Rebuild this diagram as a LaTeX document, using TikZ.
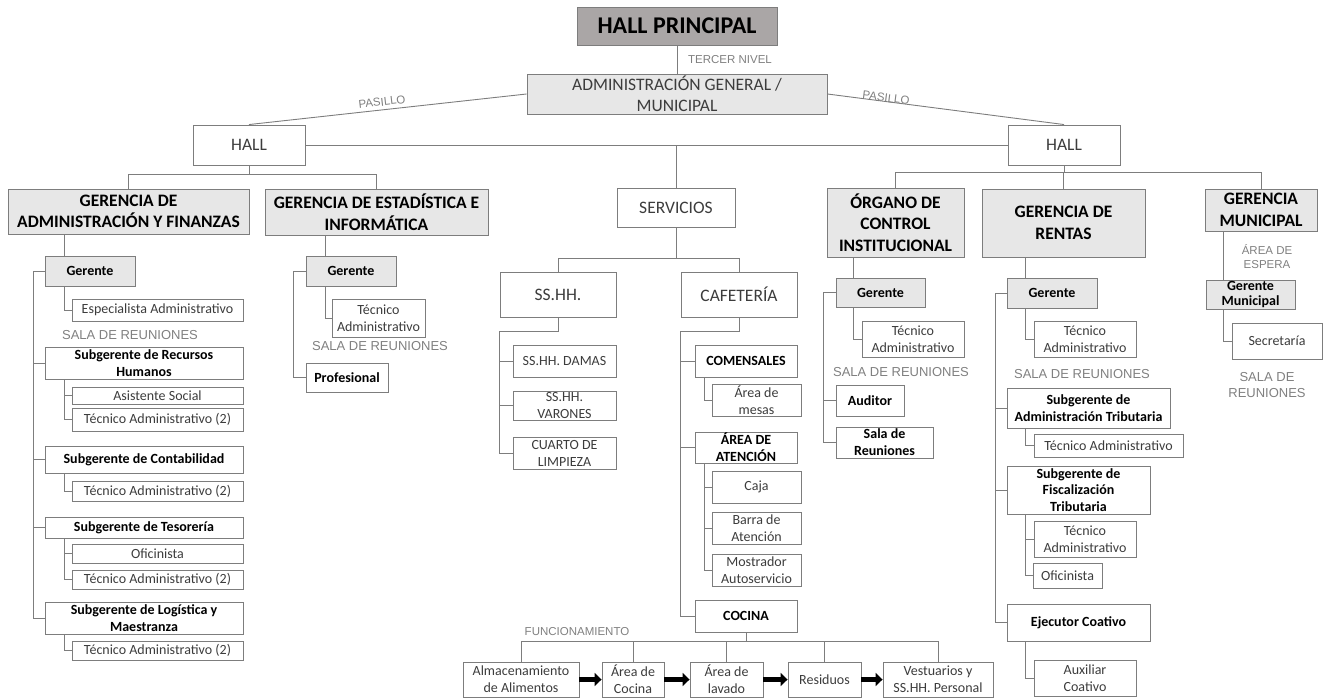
\documentclass[tikz,border=0pt]{standalone}
\usepackage{fontspec}
\setmainfont{Carlito}
\newfontfamily\lblfont{Liberation Sans}
\usetikzlibrary{arrows.meta}
\definecolor{lc}{RGB}{125,125,125}
\definecolor{hdr}{RGB}{231,231,231}
\definecolor{hpc}{RGB}{170,166,166}
\definecolor{tx}{RGB}{60,60,60}
\definecolor{lblc}{RGB}{128,128,128}
\newcommand{\bx}[7]{\node[#1, minimum width={#5pt-#3pt}, minimum height={#6pt-#4pt}] (#2) at ({(#3+#5)/2},{(#4+#6)/2}) {#7};}
\tikzset{
  box/.style={draw=lc, line width=0.9pt, inner sep=0pt, align=center, text=tx, font=\fontsize{14}{17}\selectfont},
  bbox/.style={box, text=black, font=\bfseries\fontsize{14}{17}\selectfont},
  gbox/.style={bbox, fill=hdr},
  midbox/.style={box, font=\fontsize{14}{17}\selectfont},
  bigbox/.style={box, font=\fontsize{17.5}{21}\selectfont},
  hbox/.style={box, fill=hdr, text=black, font=\bfseries\fontsize{17.5}{21.5}\selectfont},
  hpbox/.style={box, fill=hpc, text=black, font=\bfseries\fontsize{24}{28}\selectfont},
  admbox/.style={box, fill=hdr, font=\fontsize{17.5}{21}\selectfont},
  lbl/.style={text=lblc, inner sep=0pt, align=center, font=\lblfont\fontsize{11.5}{14}\selectfont},
  slbl/.style={lbl, font=\lblfont\fontsize{13}{16}\selectfont},
  ln/.style={draw=lc, line width=0.9pt},
  fat/.style={draw=black, line width=4.5pt, -{Triangle[length=7pt,width=13pt]}}
}
\begin{document}
\begin{tikzpicture}[x=1pt,y=-1pt]
\useasboundingbox (0,0) rectangle (1329,699);
% ---------- top ----------
\bx{hpbox}{hp}{577}{7}{777}{45}{HALL PRINCIPAL}
\bx{admbox}{adm}{527}{74}{827}{114}{ADMINISTRACIÓN GENERAL /\\MUNICIPAL}
\bx{bigbox}{hallL}{193}{125}{305}{165}{HALL}
\bx{bigbox}{hallR}{1008}{125}{1120}{165}{HALL}
\bx{bigbox}{serv}{617}{188}{735}{227}{SERVICIOS}
\node[lbl] (tn) at (730,60) {TERCER NIVEL};
\node[lbl, rotate=6.7] (pl) at (382,102) {PASILLO};
\node[lbl, rotate=-7.2] (pr) at (886,98) {PASILLO};
\draw[ln] (hp.south) -- (adm.north);
\draw[ln] (adm.west) -- (hallL.north);
\draw[ln] (adm.east) -- (hallR.north);
\draw[ln] (hallL.east) -- (hallR.west);
\draw[ln] (serv.north) -- (serv.north |- hallL.east);
% ---------- gerencias ----------
\bx{hbox}{gadm}{8}{189}{249}{234}{GERENCIA DE\\ADMINISTRACIÓN Y FINANZAS}
\bx{hbox}{gest}{265}{189}{488}{235}{GERENCIA DE ESTADÍSTICA E\\INFORMÁTICA}
\bx{hbox}{oci}{827}{188}{964}{257}{ÓRGANO DE\\CONTROL\\INSTITUCIONAL}
\bx{hbox}{ren}{982}{189}{1145}{257}{GERENCIA DE\\RENTAS}
\bx{hbox}{gmun}{1205}{189}{1317}{231}{GERENCIA\\MUNICIPAL}
\coordinate (bL) at (0,174);
\coordinate (bR) at (0,172);
\draw[ln] (hallL.south) -- (hallL.south |- bL);
\draw[ln] (gadm.north) -- (gadm.north |- bL) -- (gest.north |- bL) -- (gest.north);
\draw[ln] (hallR.south) -- (hallR.south |- bR);
\draw[ln] (oci.north) -- (oci.north |- bR) -- (gmun.north |- bR) -- (gmun.north);
\draw[ln] (ren.north) -- (ren.north |- bR);
% ---------- Gerencia de Administracion y Finanzas ----------
\coordinate (tA) at (33,0);
\coordinate (sA) at (64,0);
\bx{gbox}{gA}{45}{256}{135}{286}{Gerente}
\bx{box}{esp}{72}{299}{243}{321}{Especialista Administrativo}
\node[slbl] (salaA) at (130,335) {SALA DE REUNIONES};
\bx{bbox}{rrhh}{45}{347}{243}{379}{Subgerente de Recursos\\Humanos}
\bx{box}{asis}{72}{387}{243}{404}{Asistente Social}
\bx{box}{ta1}{72}{408}{243}{431}{Técnico Administrativo (2)}
\bx{bbox}{cont}{45}{446}{243}{473}{Subgerente de Contabilidad}
\bx{box}{ta2}{72}{481}{243}{501}{Técnico Administrativo (2)}
\bx{bbox}{tes}{45}{517}{243}{538}{Subgerente de Tesorería}
\bx{box}{ofA}{72}{544}{243}{563}{Oficinista}
\bx{box}{ta3}{72}{570}{243}{589}{Técnico Administrativo (2)}
\bx{bbox}{logi}{45}{602}{243}{634}{Subgerente de Logística y\\Maestranza}
\bx{box}{ta4}{72}{641}{243}{660}{Técnico Administrativo (2)}
\draw[ln] (gadm.south -| sA) -- (gA.north -| sA);
\draw[ln] (gA.west) -- (gA.west -| tA) -- (logi.west -| tA) -- (logi.west);
\draw[ln] (rrhh.west -| tA) -- (rrhh.west);
\draw[ln] (cont.west -| tA) -- (cont.west);
\draw[ln] (tes.west -| tA) -- (tes.west);
\draw[ln] (gA.south -| sA) |- (esp.west);
\draw[ln] (rrhh.south -| sA) |- (ta1.west);
\draw[ln] (asis.west -| sA) -- (asis.west);
\draw[ln] (cont.south -| sA) |- (ta2.west);
\draw[ln] (tes.south -| sA) |- (ta3.west);
\draw[ln] (ofA.west -| sA) -- (ofA.west);
\draw[ln] (logi.south -| sA) |- (ta4.west);
% ---------- Gerencia de Estadistica ----------
\coordinate (tB) at (293,0);
\coordinate (sB) at (325,0);
\bx{gbox}{gB}{306}{256}{396}{286}{Gerente}
\bx{box}{tcB}{332}{299}{425}{337}{Técnico\\Administrativo}
\node[slbl] (salaB) at (380,346) {SALA DE REUNIONES};
\bx{bbox}{prof}{306}{363}{388}{392}{Profesional}
\draw[ln] (gest.south -| sB) -- (gB.north -| sB);
\draw[ln] (gB.south -| sB) |- (tcB.west);
\draw[ln] (gB.west) -- (gB.west -| tB) |- (prof.west);
% ---------- Servicios ----------
\bx{bigbox}{sshh}{500}{272}{616}{317}{SS.HH.}
\bx{bigbox}{caf}{681}{272}{797}{317}{CAFETERÍA}
\coordinate (bS) at (0,258);
\draw[ln] (serv.south) -- (serv.south |- bS);
\draw[ln] (sshh.north) -- (sshh.north |- bS) -- (caf.north |- bS) -- (caf.north);
\coordinate (bH) at (0,331);
\bx{midbox}{damas}{513}{345}{616}{377}{SS.HH. DAMAS}
\bx{midbox}{varo}{513}{391}{616}{420}{SS.HH.\\VARONES}
\bx{midbox}{limp}{513}{437}{616}{469}{CUARTO DE\\LIMPIEZA}
\draw[ln] (sshh.south) -- (sshh.south |- bH) -- (sshh.west |- bH) -- (limp.west -| sshh.west) -- (limp.west);
\draw[ln] (damas.west -| sshh.west) -- (damas.west);
\draw[ln] (varo.west -| sshh.west) -- (varo.west);
\coordinate (sC) at (704,0);
\bx{bbox}{com}{695}{345}{797}{377}{COMENSALES}
\bx{box}{mesa}{712}{384}{801}{416}{Área de\\mesas}
\bx{bbox}{aten}{695}{432}{797}{463}{ÁREA DE\\ATENCIÓN}
\bx{box}{caja}{712}{471}{801}{503}{Caja}
\bx{box}{barra}{712}{512}{801}{544}{Barra de\\Atención}
\bx{box}{most}{712}{554}{801}{586}{Mostrador\\Autoservicio}
\bx{bbox}{coc}{695}{600}{797}{632}{COCINA}
\draw[ln] (caf.south) -- (caf.south |- bH) -- (caf.west |- bH) -- (coc.west -| caf.west) -- (coc.west);
\draw[ln] (com.west -| caf.west) -- (com.west);
\draw[ln] (aten.west -| caf.west) -- (aten.west);
\draw[ln] (com.south -| sC) |- (mesa.west);
\draw[ln] (aten.south -| sC) |- (most.west);
\draw[ln] (caja.west -| sC) -- (caja.west);
\draw[ln] (barra.west -| sC) -- (barra.west);
% ---------- Cocina ----------
\coordinate (bC) at (0,641);
\node[lbl] (func) at (577,632) {FUNCIONAMIENTO};
\bx{box}{alm}{463}{662}{579}{697}{Almacenamiento\\de Alimentos}
\bx{box}{acoc}{602}{662}{664}{697}{Área de\\Cocina}
\bx{box}{alav}{690}{662}{763}{697}{Área de\\lavado}
\bx{box}{resi}{788}{662}{861}{697}{Residuos}
\bx{box}{vest}{883}{662}{993}{697}{Vestuarios y\\SS.HH. Personal}
\draw[ln] (coc.south) -- (coc.south |- bC);
\draw[ln] (alm.north) -- (alm.north |- bC) -- (vest.north |- bC) -- (vest.north);
\draw[ln] (acoc.north) -- (acoc.north |- bC);
\draw[ln] (alav.north) -- (alav.north |- bC);
\draw[ln] (resi.north) -- (resi.north |- bC);
\draw[fat] (alm.east) -- (acoc.west);
\draw[fat] (acoc.east) -- (alav.west);
\draw[fat] (alav.east) -- (resi.west);
\draw[fat] (resi.east) -- (vest.west);
% ---------- Organo de Control ----------
\coordinate (tO) at (823,0);
\coordinate (sO) at (853,0);
\bx{gbox}{gO}{836}{278}{925}{307}{Gerente}
\bx{box}{tcO}{862}{321}{964}{357}{Técnico\\Administrativo}
\node[slbl] (salaO) at (901,372) {SALA DE REUNIONES};
\bx{bbox}{aud}{836}{385}{904}{416}{Auditor}
\bx{bbox}{salaR}{836}{427}{933}{458}{Sala de\\Reuniones}
\draw[ln] (oci.south -| sO) -- (gO.north -| sO);
\draw[ln] (gO.south -| sO) |- (tcO.west);
\draw[ln] (gO.west) -- (gO.west -| tO) |- (salaR.west);
\draw[ln] (aud.west -| tO) -- (aud.west);
% ---------- Gerencia de Rentas ----------
\coordinate (tR) at (995,0);
\coordinate (sR) at (1025,0);
\bx{gbox}{gR}{1007}{278}{1097}{308}{Gerente}
\bx{box}{tcR}{1034}{321}{1136}{357}{Técnico\\Administrativo}
\node[slbl] (salaRe) at (1082,374) {SALA DE REUNIONES};
\bx{bbox}{sat}{1007}{388}{1170}{428}{Subgerente de\\Administración Tributaria}
\bx{box}{tcR2}{1034}{434}{1183}{457}{Técnico Administrativo}
\bx{bbox, font=\bfseries\fontsize{14}{16.2}\selectfont}{sft}{1007}{466}{1150}{514}{Subgerente de\\Fiscalización\\Tributaria}
\bx{box}{tcR3}{1034}{521}{1136}{557}{Técnico\\Administrativo}
\bx{box}{ofR}{1033}{563}{1102}{588}{Oficinista}
\bx{bbox}{eje}{1007}{604}{1150}{641}{Ejecutor Coativo}
\bx{box}{aux}{1034}{660}{1136}{696}{Auxiliar\\Coativo}
\draw[ln] (ren.south -| sR) -- (gR.north -| sR);
\draw[ln] (gR.south -| sR) |- (tcR.west);
\draw[ln] (gR.west) -- (gR.west -| tR) |- (eje.west);
\draw[ln] (sat.west -| tR) -- (sat.west);
\draw[ln] (sft.west -| tR) -- (sft.west);
\draw[ln] (sat.south -| sR) |- (tcR2.west);
\draw[ln] (sft.south -| sR) |- (ofR.west);
\draw[ln] (tcR3.west -| sR) -- (tcR3.west);
\draw[ln] (eje.south -| sR) |- (aux.west);
% ---------- Gerencia Municipal ----------
\coordinate (sM) at (1223,0);
\node[lbl] (esp2) at (1267,257) {ÁREA DE\\ESPERA};
\bx{box, fill=hdr, text=black, font=\bfseries\fontsize{14}{15}\selectfont}{gM}{1206}{280}{1295}{309}{Gerente\\Municipal}
\bx{box}{sec}{1232}{323}{1322}{359}{Secretaría}
\node[slbl] (salaM) at (1267,385) {SALA DE\\REUNIONES};
\draw[ln] (gmun.south -| sM) -- (gM.north -| sM);
\draw[ln] (gM.south -| sM) |- (sec.west);
\end{tikzpicture}
\end{document}
